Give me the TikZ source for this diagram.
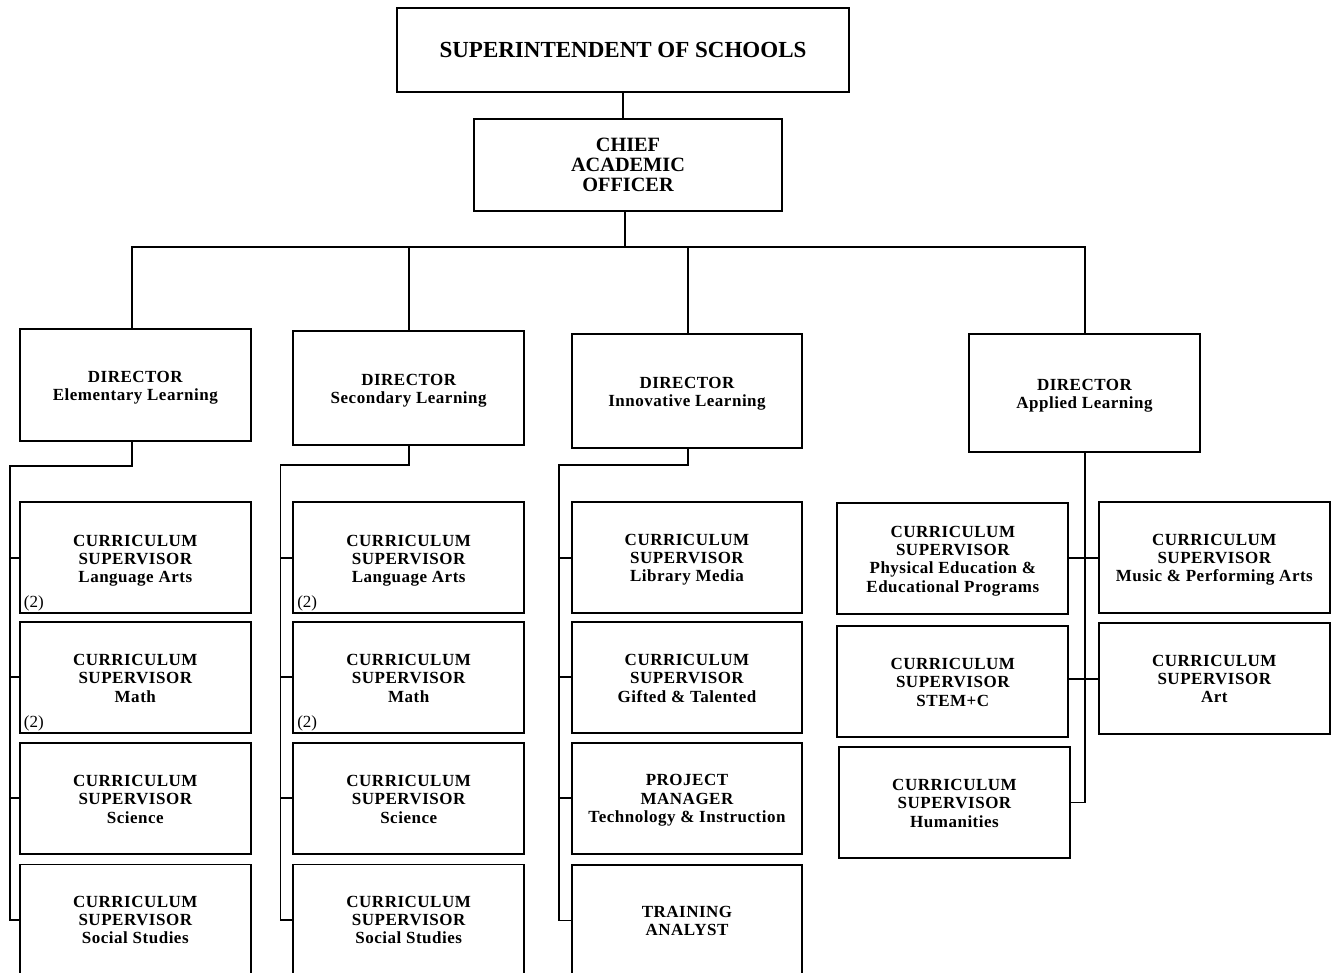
\documentclass[tikz,border=0pt]{standalone}
\usepackage{fontspec}
\setmainfont{Liberation Serif}
% slightly tracked face for the smaller box labels
\newfontfamily\trackedserif[LetterSpace=3]{Liberation Serif}
\begin{document}
\begin{tikzpicture}[x=1pt,y=-1pt,
  line width=1.9pt,
  orgbox/.style={draw=black, rectangle, inner sep=0pt, outer sep=0pt},
  subbox/.style={orgbox, minimum width=230.7pt, minimum height=111pt},
  boxtext/.style={align=center, inner sep=0pt, outer sep=0pt,
    font=\trackedserif\fontsize{17}{18.3}\selectfont\bfseries},
  title/.style 2 args={label={[boxtext, yshift=-#1pt]center:{#2}}},
  countlabel/.style={anchor=base west, inner sep=0pt,
    font=\fontsize{17}{17}\selectfont},
  link/.style={draw=black, line width=1.9pt}]
\useasboundingbox (0,0) rectangle (1331,973);
\clip (0,0) rectangle (1331,973);

% --- top of the hierarchy ---
\node[orgbox, minimum width=452pt, minimum height=84pt, align=center,
  font=\fontsize{23}{23}\selectfont\bfseries] (sup) at (623,50)
  {SUPERINTENDENT OF SCHOOLS};
\node[orgbox, minimum width=308pt, minimum height=92pt, align=center,
  font=\fontsize{20.3}{20}\selectfont\bfseries] (cao) at (628,165)
  {CHIEF\\ACADEMIC\\OFFICER};

% --- directors ---
\node[orgbox, minimum width=230.7pt, minimum height=111.4pt,
  title={3}{DIRECTOR\\Elementary Learning}] (elem) at (135.3,385) {};
\node[orgbox, minimum width=230.7pt, minimum height=114.3pt,
  title={3}{DIRECTOR\\Secondary Learning}] (sec) at (408.7,387.9) {};
\node[orgbox, minimum width=230.6pt, minimum height=114.6pt,
  title={3}{DIRECTOR\\Innovative Learning}] (inno) at (687,391) {};
\node[orgbox, minimum width=231pt, minimum height=117.7pt,
  title={3}{DIRECTOR\\Applied Learning}] (appl) at (1084.5,392.9) {};

% --- elementary learning ---
\node[subbox, title={3}{CURRICULUM\\SUPERVISOR\\Language Arts}] (e1) at (135.3,557.7) {};
\node[subbox, title={1}{CURRICULUM\\SUPERVISOR\\Math}] (e2) at (135.3,677.4) {};
\node[subbox, title={1}{CURRICULUM\\SUPERVISOR\\Science}] (e3) at (135.3,798.4) {};
\node[subbox, title={0}{CURRICULUM\\SUPERVISOR\\Social Studies}] (e4) at (135.3,920) {};
\node[countlabel] (e1n) at ([xshift=3pt,yshift=5.5pt]e1.south west) {(2)};
\node[countlabel] (e2n) at ([xshift=3pt,yshift=5.5pt]e2.south west) {(2)};

% --- secondary learning ---
\node[subbox, title={3}{CURRICULUM\\SUPERVISOR\\Language Arts}] (s1) at (408.7,557.7) {};
\node[subbox, title={1}{CURRICULUM\\SUPERVISOR\\Math}] (s2) at (408.7,677.4) {};
\node[subbox, title={1}{CURRICULUM\\SUPERVISOR\\Science}] (s3) at (408.7,798.4) {};
\node[subbox, title={0}{CURRICULUM\\SUPERVISOR\\Social Studies}] (s4) at (408.7,920) {};
\node[countlabel] (s1n) at ([xshift=3pt,yshift=5.5pt]s1.south west) {(2)};
\node[countlabel] (s2n) at ([xshift=3pt,yshift=5.5pt]s2.south west) {(2)};

% --- innovative learning ---
\node[subbox, minimum width=230.6pt,
  title={2}{CURRICULUM\\SUPERVISOR\\Library Media}] (i1) at (687,557.7) {};
\node[subbox, minimum width=230.6pt,
  title={1}{CURRICULUM\\SUPERVISOR\\Gifted \& Talented}] (i2) at (687,677.4) {};
\node[subbox, minimum width=230.6pt,
  title={2}{PROJECT\\MANAGER\\Technology \& Instruction}] (i3) at (687,798.4) {};
\node[subbox, minimum width=230.6pt,
  title={0.5}{TRAINING\\ANALYST}] (i4) at (687,920.5) {};

% --- applied learning ---
\node[subbox, minimum width=231pt, minimum height=111.3pt,
  title={2.5}{CURRICULUM\\SUPERVISOR\\Physical Education \&\\Educational Programs}]
  (al1) at (952.8,558.3) {};
\node[subbox, minimum width=231pt, minimum height=110.7pt,
  title={1}{CURRICULUM\\SUPERVISOR\\STEM+C}] (al2) at (952.8,681.3) {};
\node[subbox, minimum width=231pt, minimum height=110.4pt,
  title={0.7}{CURRICULUM\\SUPERVISOR\\Humanities}] (hum) at (954.5,802.5) {};
\node[subbox, minimum width=231.3pt, minimum height=111.3pt,
  title={2}{CURRICULUM\\SUPERVISOR\\Music \& Performing Arts}] (ar1) at (1214.3,557.7) {};
\node[subbox, minimum width=231.3pt, minimum height=111pt,
  title={0}{CURRICULUM\\SUPERVISOR\\Art}] (ar2) at (1214.3,678.8) {};

% --- reporting lines: top ---
\draw[link] (sup.south) -- (sup.south |- cao.north);
\coordinate (caoOut) at ([xshift=-3pt]cao.south);
\coordinate (dE) at (131.7,246.7);
\coordinate (dS) at (409,246.7);
\coordinate (dI) at (687.7,246.7);
\coordinate (dA) at (1085,246.7);
\draw[link] (caoOut) -- (caoOut |- dE);
\draw[link] ([xshift=-0.9pt]dE) -- ([xshift=0.9pt]dA);
\draw[link] (dE) -- (dE |- elem.north);
\draw[link] (dS) -- (dS |- sec.north);
\draw[link] (dI) -- (dI |- inno.north);
\draw[link] (dA) -- (dA |- appl.north);

% --- reporting lines: elementary spine ---
\coordinate (spE) at (10.3,465.7);
\draw[link] (elem.south -| dE) |- (spE) -- (spE |- e4.west) -- (e4.west);
\draw[link] (spE |- e1.west) -- (e1.west);
\draw[link] (spE |- e2.west) -- (e2.west);
\draw[link] (spE |- e3.west) -- (e3.west);

% --- reporting lines: secondary spine ---
\coordinate (spS) at (280.5,464.7);
\draw[link] (sec.south -| dS) |- (spS) -- (spS |- s4.west) -- (s4.west);
\draw[link] (spS |- s1.west) -- (s1.west);
\draw[link] (spS |- s2.west) -- (s2.west);
\draw[link] (spS |- s3.west) -- (s3.west);

% --- reporting lines: innovative spine ---
\coordinate (spI) at (559,465);
\draw[link] (inno.south -| dI) |- (spI) -- (spI |- i4.west) -- (i4.west);
\draw[link] (spI |- i1.west) -- (i1.west);
\draw[link] (spI |- i2.west) -- (i2.west);
\draw[link] (spI |- i3.west) -- (i3.west);

% --- reporting lines: applied spine ---
\draw[link] (appl.south -| dA) -- (dA |- hum.east) -- (hum.east);
\draw[link] (al1.east) -- (al1.east -| ar1.west);
\draw[link] (ar2.west -| al2.east) -- (ar2.west);
\end{tikzpicture}
\end{document}
